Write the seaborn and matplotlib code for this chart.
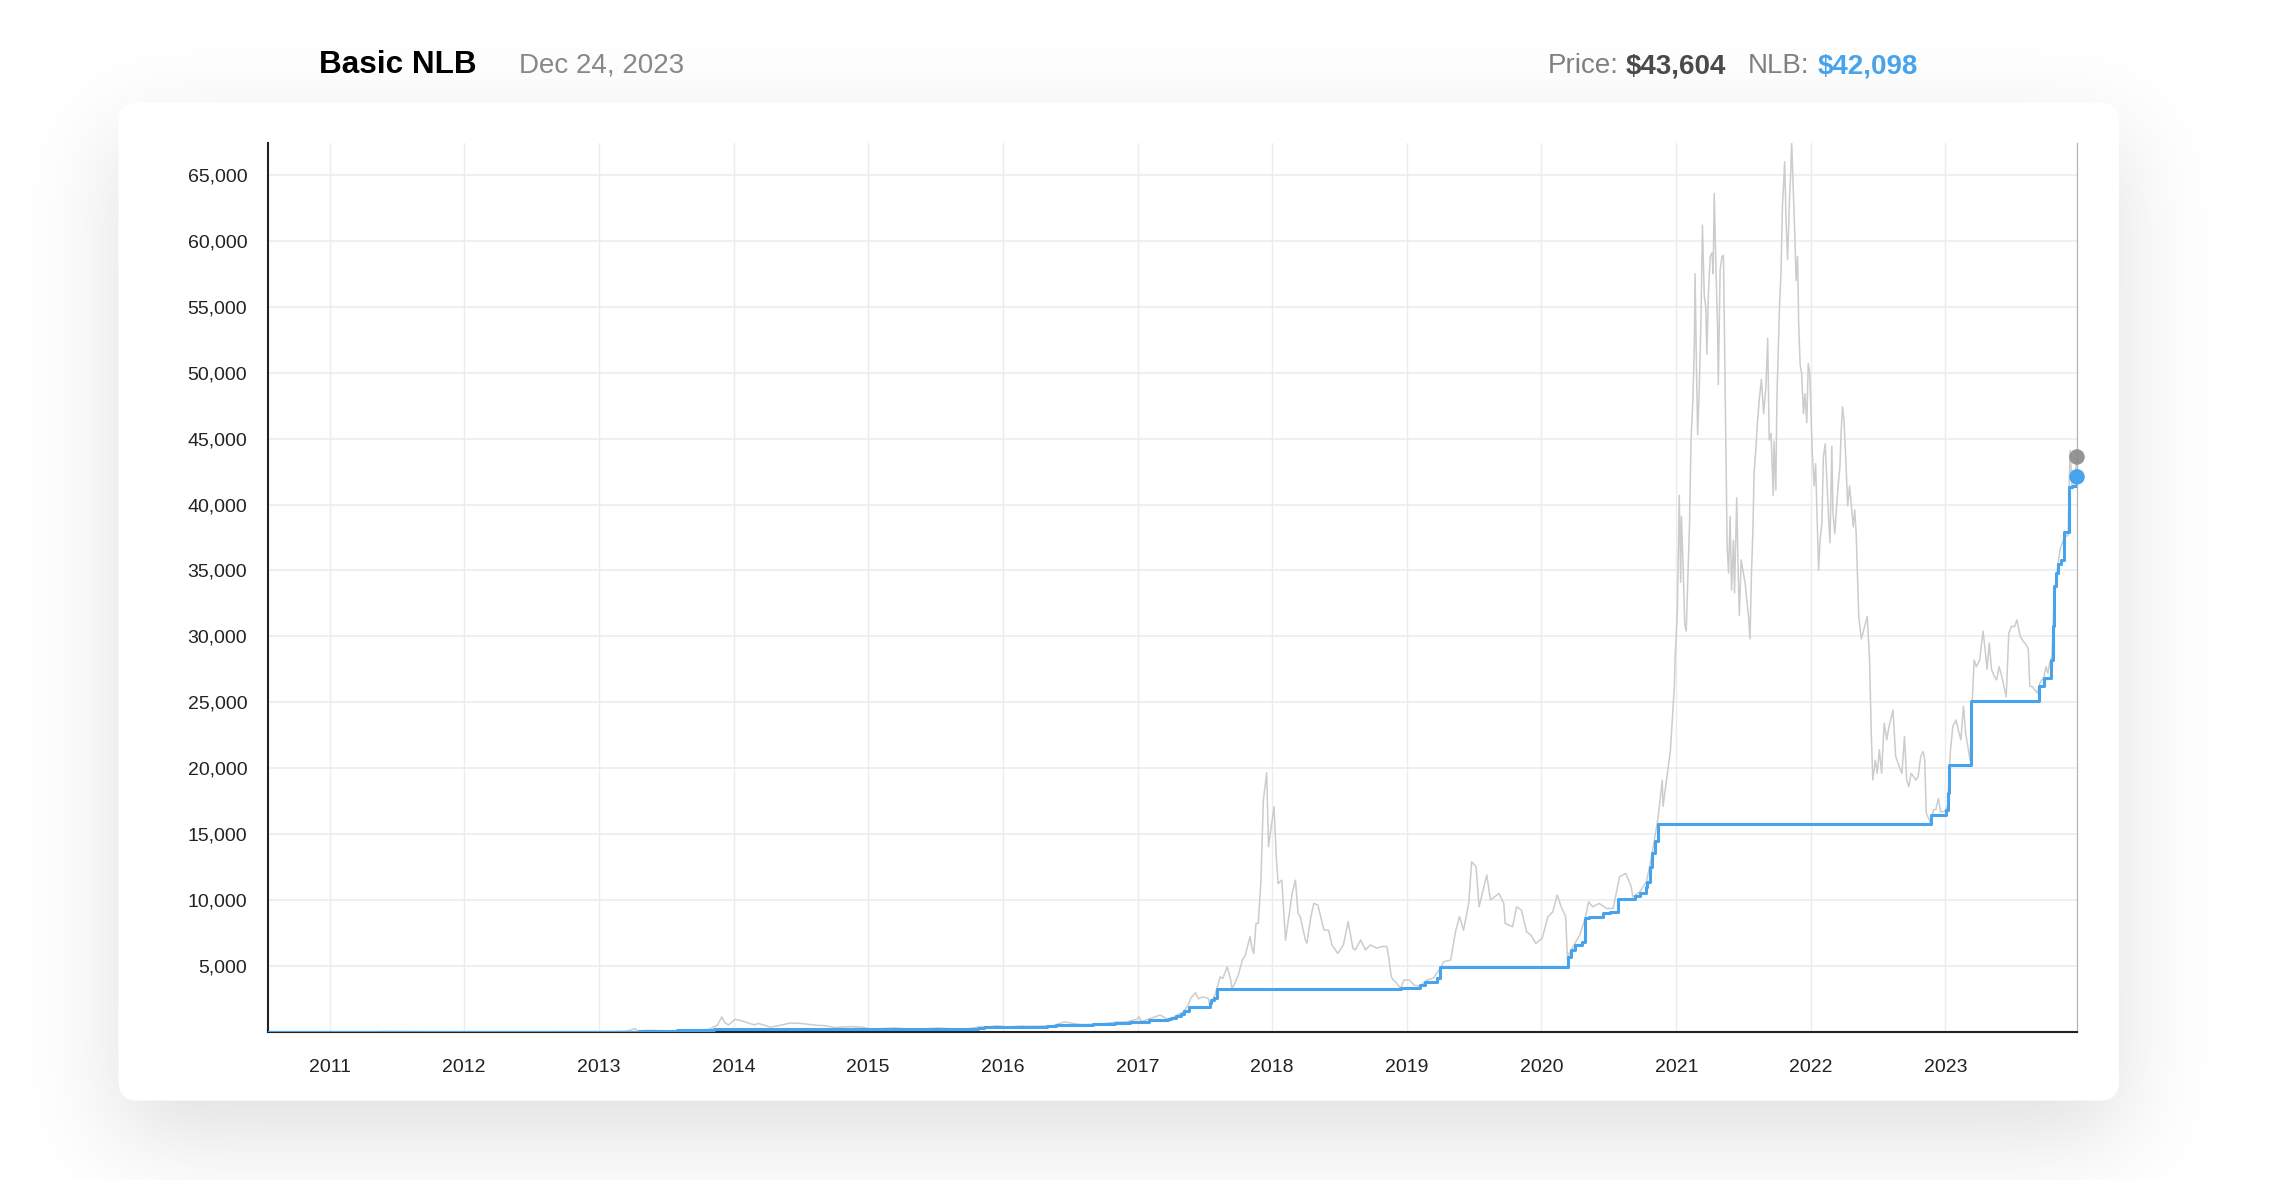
import math
import numpy as np
import pandas as pd
import matplotlib
matplotlib.use("Agg")
import matplotlib.pyplot as plt
import matplotlib.dates as mdates
from matplotlib.patches import FancyBboxPatch
from matplotlib.ticker import FuncFormatter
import seaborn as sns

# --- data --------------------------------------------------------------------
# daily-ish BTC price (gray line)
price_dates = [
    "2010-07-18", "2010-10-01", "2010-11-08", "2011-01-01", "2011-02-10", "2011-04-01",
    "2011-05-10", "2011-06-08", "2011-06-20", "2011-07-15", "2011-08-20", "2011-09-15",
    "2011-10-20", "2011-11-18", "2012-01-08", "2012-02-20", "2012-05-01", "2012-07-01",
    "2012-08-16", "2012-08-20", "2012-11-01", "2013-01-01", "2013-02-15", "2013-03-15",
    "2013-04-09", "2013-04-16", "2013-05-15", "2013-07-05", "2013-08-15", "2013-10-01",
    "2013-10-25", "2013-11-18", "2013-11-30", "2013-12-08", "2013-12-18", "2014-01-05",
    "2014-01-27", "2014-02-25", "2014-03-10", "2014-04-10", "2014-05-01", "2014-06-03",
    "2014-07-01", "2014-08-18", "2014-09-01", "2014-10-05", "2014-11-15", "2014-12-15",
    "2015-01-14", "2015-02-01", "2015-03-12", "2015-04-14", "2015-06-01", "2015-07-10",
    "2015-08-25", "2015-10-01", "2015-11-04", "2015-11-11", "2015-12-15", "2016-01-15",
    "2016-02-20", "2016-03-15", "2016-05-15", "2016-06-17", "2016-07-01", "2016-08-02",
    "2016-09-01", "2016-10-01", "2016-11-01", "2016-12-01", "2016-12-31", "2017-01-04",
    "2017-01-11", "2017-02-04", "2017-03-03", "2017-03-25", "2017-04-15", "2017-05-05",
    "2017-05-18", "2017-05-25", "2017-06-07", "2017-06-15", "2017-06-25", "2017-07-12",
    "2017-07-16", "2017-07-31", "2017-08-13", "2017-08-20", "2017-09-01", "2017-09-10",
    "2017-09-14", "2017-09-22", "2017-10-01", "2017-10-12", "2017-10-20", "2017-11-02",
    "2017-11-06", "2017-11-12", "2017-11-18", "2017-11-24", "2017-12-01", "2017-12-08",
    "2017-12-17", "2017-12-22", "2017-12-28", "2018-01-06", "2018-01-12", "2018-01-17",
    "2018-01-27", "2018-02-06", "2018-02-24", "2018-03-05", "2018-03-12", "2018-03-18",
    "2018-04-01", "2018-04-05", "2018-04-16", "2018-04-24", "2018-05-05", "2018-05-21",
    "2018-06-03", "2018-06-12", "2018-06-28", "2018-07-13", "2018-07-26", "2018-08-08",
    "2018-08-14", "2018-08-29", "2018-09-11", "2018-09-24", "2018-10-12", "2018-10-26",
    "2018-11-08", "2018-11-14", "2018-11-20", "2018-11-25", "2018-12-05", "2018-12-15",
    "2018-12-24", "2019-01-08", "2019-01-21", "2019-02-05", "2019-02-24", "2019-03-13",
    "2019-04-02", "2019-04-11", "2019-04-30", "2019-05-14", "2019-05-24", "2019-06-04",
    "2019-06-18", "2019-06-26", "2019-07-08", "2019-07-16", "2019-08-06", "2019-08-16",
    "2019-09-08", "2019-09-21", "2019-09-25", "2019-10-15", "2019-10-26", "2019-11-08",
    "2019-11-22", "2019-12-04", "2019-12-17", "2020-01-03", "2020-01-19", "2020-02-01",
    "2020-02-13", "2020-02-24", "2020-03-07", "2020-03-12", "2020-03-16", "2020-04-01",
    "2020-04-14", "2020-04-29", "2020-05-08", "2020-05-19", "2020-06-06", "2020-06-25",
    "2020-07-14", "2020-07-31", "2020-08-17", "2020-09-01", "2020-09-05", "2020-09-24",
    "2020-10-12", "2020-10-26", "2020-11-13", "2020-11-24", "2020-11-26", "2020-12-16",
    "2020-12-27", "2020-12-29", "2021-01-04", "2021-01-09", "2021-01-13", "2021-01-15",
    "2021-01-19", "2021-01-24", "2021-01-28", "2021-02-01", "2021-02-06", "2021-02-10",
    "2021-02-15", "2021-02-19", "2021-02-21", "2021-02-25", "2021-02-28", "2021-03-04",
    "2021-03-09", "2021-03-13", "2021-03-18", "2021-03-22", "2021-03-25", "2021-03-29",
    "2021-04-03", "2021-04-08", "2021-04-11", "2021-04-14", "2021-04-19", "2021-04-23",
    "2021-04-25", "2021-04-30", "2021-05-05", "2021-05-09", "2021-05-13", "2021-05-16",
    "2021-05-19", "2021-05-23", "2021-05-27", "2021-05-31", "2021-06-05", "2021-06-08",
    "2021-06-14", "2021-06-18", "2021-06-21", "2021-06-26", "2021-07-01", "2021-07-07",
    "2021-07-11", "2021-07-16", "2021-07-20", "2021-07-24", "2021-07-28", "2021-07-31",
    "2021-08-06", "2021-08-09", "2021-08-14", "2021-08-20", "2021-08-26", "2021-09-01",
    "2021-09-06", "2021-09-10", "2021-09-15", "2021-09-21", "2021-09-23", "2021-09-28",
    "2021-10-01", "2021-10-08", "2021-10-12", "2021-10-16", "2021-10-22", "2021-10-26",
    "2021-10-30", "2021-11-04", "2021-11-07", "2021-11-10", "2021-11-14", "2021-11-19",
    "2021-11-22", "2021-11-26", "2021-11-29", "2021-12-03", "2021-12-07", "2021-12-12",
    "2021-12-16", "2021-12-21", "2021-12-25", "2021-12-29", "2022-01-01", "2022-01-05",
    "2022-01-10", "2022-01-14", "2022-01-22", "2022-01-26", "2022-01-31", "2022-02-04",
    "2022-02-09", "2022-02-13", "2022-02-18", "2022-02-22", "2022-02-27", "2022-03-02",
    "2022-03-07", "2022-03-12", "2022-03-16", "2022-03-21", "2022-03-24", "2022-03-28",
    "2022-04-01", "2022-04-06", "2022-04-11", "2022-04-16", "2022-04-21", "2022-04-26",
    "2022-04-30", "2022-05-04", "2022-05-11", "2022-05-18", "2022-05-27", "2022-06-03",
    "2022-06-09", "2022-06-14", "2022-06-18", "2022-06-25", "2022-06-30", "2022-07-06",
    "2022-07-12", "2022-07-19", "2022-07-26", "2022-08-01", "2022-08-12", "2022-08-19",
    "2022-08-29", "2022-09-05", "2022-09-12", "2022-09-18", "2022-09-24", "2022-09-30",
    "2022-10-07", "2022-10-13", "2022-10-19", "2022-10-26", "2022-11-02", "2022-11-06",
    "2022-11-10", "2022-11-14", "2022-11-18", "2022-11-22", "2022-11-30", "2022-12-06",
    "2022-12-13", "2022-12-19", "2022-12-29", "2023-01-07", "2023-01-14", "2023-01-21",
    "2023-01-30", "2023-02-05", "2023-02-12", "2023-02-19", "2023-02-25", "2023-03-03",
    "2023-03-09", "2023-03-14", "2023-03-20", "2023-03-26", "2023-04-04", "2023-04-13",
    "2023-04-18", "2023-04-24", "2023-04-30", "2023-05-06", "2023-05-13", "2023-05-20",
    "2023-05-27", "2023-06-05", "2023-06-15", "2023-06-22", "2023-06-29", "2023-07-08",
    "2023-07-14", "2023-07-23", "2023-08-01", "2023-08-09", "2023-08-14", "2023-08-18",
    "2023-08-24", "2023-08-31", "2023-09-08", "2023-09-14", "2023-09-20", "2023-09-25",
    "2023-10-01", "2023-10-06", "2023-10-11", "2023-10-17", "2023-10-23", "2023-11-02",
    "2023-11-09", "2023-11-20", "2023-11-30", "2023-12-05", "2023-12-11", "2023-12-17",
    "2023-12-24",
]
price_values = [
    0.09, 0.06, 0.39, 0.30, 1.09, 0.78,
    5.8, 29.6, 17.5, 13.8, 11.0, 4.8,
    2.3, 2.1, 7.1, 4.4, 5.0, 6.7,
    13.5, 8.2, 10.6, 13.3, 27, 47,
    230, 68, 115, 68, 98, 125,
    185, 500, 1130, 700, 520, 950,
    800, 530, 630, 360, 450, 665,
    640, 480, 480, 320, 400, 350,
    175, 230, 295, 220, 225, 290,
    210, 238, 400, 310, 455, 370,
    440, 415, 455, 750, 675, 545,
    575, 615, 730, 755, 960, 1150,
    780, 1010, 1270, 930, 1210, 1520,
    2020, 2550, 2960, 2500, 2650, 2530,
    1950, 2900, 4170, 4050, 4930, 3970,
    3290, 3700, 4300, 5450, 5820, 7230,
    6470, 5940, 8220, 8230, 11250, 17580,
    19650, 14040, 15300, 17070, 13280, 11250,
    11500, 6950, 10500, 11500, 8990, 8740,
    6970, 6720, 8740, 9750, 9610, 7730,
    7700, 6590, 5940, 6590, 8360, 6320,
    6210, 6970, 6210, 6590, 6340, 6470,
    6470, 5460, 4190, 3940, 3670, 3290,
    3920, 3920, 3540, 3460, 3920, 4050,
    4800, 5310, 5440, 7710, 8730, 7710,
    9740, 12900, 12520, 9480, 11890, 9990,
    10500, 9740, 8220, 7970, 9480, 9230,
    7590, 7330, 6700, 7080, 8730, 9100,
    10370, 9480, 8730, 5440, 5940, 6700,
    7330, 8600, 9860, 9480, 9740, 9360,
    9360, 11760, 12010, 11000, 10240, 10620,
    11380, 13280, 16300, 19100, 17100, 21300,
    26300, 28400, 32000, 40700, 34100, 39100,
    35800, 30900, 30400, 34100, 38600, 44900,
    47900, 52000, 57500, 50000, 45300, 48500,
    54000, 61200, 55800, 55000, 51400, 55800,
    58800, 59100, 57500, 63600, 57500, 53500,
    49100, 57800, 58800, 58900, 50000, 43600,
    36800, 34800, 39100, 33500, 37300, 33300,
    40500, 34800, 31600, 35800, 35000, 34000,
    32800, 31500, 29800, 34800, 38100, 42300,
    44700, 46200, 47900, 49500, 46900, 48900,
    52600, 44900, 45400, 40700, 44800, 41100,
    48100, 55000, 57500, 62600, 66000, 61300,
    58600, 63100, 64900, 67500, 64100, 60100,
    57000, 58800, 53800, 50600, 50000, 46900,
    48400, 46200, 50700, 50000, 47400, 43900,
    41400, 43100, 35000, 37300, 38600, 43600,
    44600, 42100, 39100, 37100, 44400, 39400,
    37800, 39900, 41400, 42900, 45400, 47400,
    46400, 43400, 39900, 41400, 39900, 38300,
    39600, 37800, 31500, 29800, 30750, 31500,
    28500, 22650, 19100, 20600, 19600, 21400,
    19600, 23400, 22150, 23150, 24400, 20900,
    20100, 19600, 22400, 19100, 18600, 19600,
    19350, 19100, 19350, 20900, 21250, 20600,
    16600, 16350, 16100, 15800, 16850, 16850,
    17700, 16700, 16700, 17100, 21100, 23150,
    23650, 22900, 22150, 24700, 22650, 21600,
    20600, 24500, 28200, 27700, 28200, 30400,
    29200, 27500, 29500, 27500, 27000, 26700,
    27700, 26700, 25400, 30250, 30750, 30750,
    31250, 30000, 29600, 29350, 29000, 26200,
    26200, 25950, 25700, 26450, 26700, 26900,
    27700, 27200, 28000, 28400, 33000, 35400,
    36700, 37500, 37700, 44100, 41200, 41400,
    43604,
]

# NLB ("never look back") level, drawn as steps
nlb_dates = [
    "2010-07-18", "2011-02-01", "2011-06-01", "2012-01-01", "2012-08-01", "2013-01-01",
    "2013-04-20", "2013-08-01", "2013-10-10", "2013-11-10", "2015-01-14", "2015-03-15",
    "2015-08-25", "2015-10-05", "2015-10-25", "2015-11-10", "2016-01-15", "2016-03-01",
    "2016-05-01", "2016-05-25", "2016-08-02", "2016-09-01", "2016-11-01", "2016-12-10",
    "2017-01-11", "2017-02-01", "2017-03-25", "2017-04-01", "2017-04-15", "2017-04-28",
    "2017-05-08", "2017-05-19", "2017-07-15", "2017-07-20", "2017-07-26", "2017-08-03",
    "2018-12-15", "2019-02-06", "2019-02-20", "2019-03-25", "2019-04-02", "2020-03-12",
    "2020-03-21", "2020-04-02", "2020-04-20", "2020-04-29", "2020-05-10", "2020-06-15",
    "2020-07-05", "2020-07-27", "2020-09-10", "2020-09-25", "2020-10-10", "2020-10-14",
    "2020-10-21", "2020-10-27", "2020-11-04", "2020-11-13", "2022-11-22", "2023-01-02",
    "2023-01-08", "2023-01-12", "2023-03-11", "2023-09-11", "2023-09-26", "2023-10-15",
    "2023-10-19", "2023-10-22", "2023-10-27", "2023-11-02", "2023-11-10", "2023-11-20",
    "2023-12-01", "2023-12-10", "2023-12-24",
]
nlb_values = [
    0.05, 0.8, 2.0, 4.2, 8, 13,
    65, 100, 140, 175, 200, 210,
    225, 240, 280, 330, 365, 400,
    440, 520, 540, 600, 700, 760,
    780, 900, 960, 1050, 1215, 1330,
    1600, 1900, 2200, 2400, 2600, 3210,
    3360, 3540, 3790, 4050, 4880, 5690,
    6200, 6580, 6830, 8600, 8730, 8980,
    9100, 10100, 10300, 10500, 11000, 11400,
    12500, 13550, 14500, 15770, 16450, 16800,
    18100, 20250, 25130, 26200, 26830, 28200,
    30750, 33800, 34800, 35500, 35800, 37900,
    41300, 41400, 42098,
]
assert len(price_dates) == len(price_values)
assert len(nlb_dates) == len(nlb_values)

y_ticks = list(range(5000, 65001, 5000))
y_top = 67400

BLUE = "#47a3ec"
GRAY_LINE = "#cccccc"
GRID = "#e8edf3"
INK = "#222222"

price_df = pd.DataFrame({"date": pd.to_datetime(price_dates), "price": price_values})
nlb_df = pd.DataFrame({"date": pd.to_datetime(nlb_dates), "nlb": nlb_values})

# --- figure / page ------------------------------------------------------------
sns.set_style("white")
plt.rcParams["font.family"] = ["Liberation Sans", "DejaVu Sans"]

W, H = 2292, 1180
fig = plt.figure(figsize=(W / 100, H / 100), dpi=100)
fig.patch.set_facecolor("white")

# soft card shadow behind everything
card_x0, card_y0, card_x1, card_y1 = 118.5, 102.4, 2119.0, 1100.6
erf = np.vectorize(math.erf)


def edge_profile(coord, lo, hi, sigma):
    s = math.sqrt(2) * sigma
    return 0.5 * (erf((coord - lo) / s) - erf((coord - hi) / s))


xs = np.arange(W) + 0.5
ys = np.arange(H) + 0.5
fx = edge_profile(xs, card_x0, card_x1, 45)
fy = edge_profile(ys, card_y0 + 35, card_y1 + 35, 45)
shade = 1 - 0.12 * np.outer(fy, fx)
bg = fig.add_axes([0, 0, 1, 1])
bg.imshow(np.dstack([shade] * 3), extent=(0, W, H, 0), aspect="auto",
          interpolation="bilinear", zorder=0)
bg.add_patch(FancyBboxPatch((card_x0, card_y0), card_x1 - card_x0, card_y1 - card_y0,
                            boxstyle="round,pad=0,rounding_size=19",
                            fc="white", ec="none", zorder=1))
bg.set_xlim(0, W)
bg.set_ylim(H, 0)
bg.axis("off")

# --- main chart -----------------------------------------------------------------
ax_l, ax_r, ax_t, ax_b = 268, 2077, 143.3, 1031.8
ax = fig.add_axes([ax_l / W, 1 - ax_b / H, (ax_r - ax_l) / W, (ax_b - ax_t) / H])
ax.set_facecolor("none")

sns.lineplot(data=price_df, x="date", y="price", ax=ax, color=GRAY_LINE,
             linewidth=1.1, estimator=None, zorder=2)
sns.lineplot(data=nlb_df, x="date", y="nlb", ax=ax, color=BLUE, linewidth=2.2,
             drawstyle="steps-post", estimator=None, zorder=3)

last_date = price_df["date"].iloc[-1]
ax.scatter([last_date], [price_values[-1]], s=125, color="#8a8a8a", alpha=0.9,
           edgecolor="none", zorder=5, clip_on=False)
ax.scatter([nlb_df["date"].iloc[-1]], [nlb_values[-1]], s=125, color=BLUE,
           edgecolor="none", zorder=6, clip_on=False)

ax.set_xlim(price_df["date"].iloc[0], last_date)
ax.set_ylim(0, y_top)
ax.set_yticks(y_ticks)
ax.yaxis.set_major_formatter(FuncFormatter(lambda v, _: f"{int(v):,}"))
ax.xaxis.set_major_locator(mdates.YearLocator())
ax.xaxis.set_major_formatter(mdates.DateFormatter("%Y"))
ax.set_xlabel("")
ax.set_ylabel("")

ax.set_axisbelow(True)
ax.yaxis.grid(True, color=GRID, linewidth=1.2)
ax.xaxis.grid(True, color=GRID, linewidth=1.0)

ax.spines["top"].set_visible(False)
ax.spines["right"].set_color("#b3b3b3")
ax.spines["right"].set_linewidth(0.9)
for side in ["left", "bottom"]:
    ax.spines[side].set_color(INK)
    ax.spines[side].set_linewidth(1.5)

ax.tick_params(axis="both", length=11.5, width=1.2, color=INK,
               labelsize=14, labelcolor=INK)
ax.tick_params(axis="y", pad=3.5)
ax.tick_params(axis="x", pad=8)

# --- header ---------------------------------------------------------------------
base_y = 1 - 73 / H
fig.text(318.7 / W, base_y, "Basic NLB", fontsize=22.7, fontweight="bold",
         color="black", va="baseline")
fig.text(519 / W, base_y, last_date.strftime("%b %d, %Y"), fontsize=20,
         color="#888888", va="baseline")
fig.text(1547.3 / W, base_y, "Price:", fontsize=20, color="#808080", va="baseline")
fig.text(1626 / W, base_y, f"${price_values[-1]:,}", fontsize=20, fontweight="bold",
         color="#4a4a4a", va="baseline")
fig.text(1747.3 / W, base_y, "NLB:", fontsize=20, color="#808080", va="baseline")
fig.text(1817.3 / W, base_y, f"${nlb_values[-1]:,}", fontsize=20, fontweight="bold",
         color=BLUE, va="baseline")

fig.savefig("out.png", dpi=100)
